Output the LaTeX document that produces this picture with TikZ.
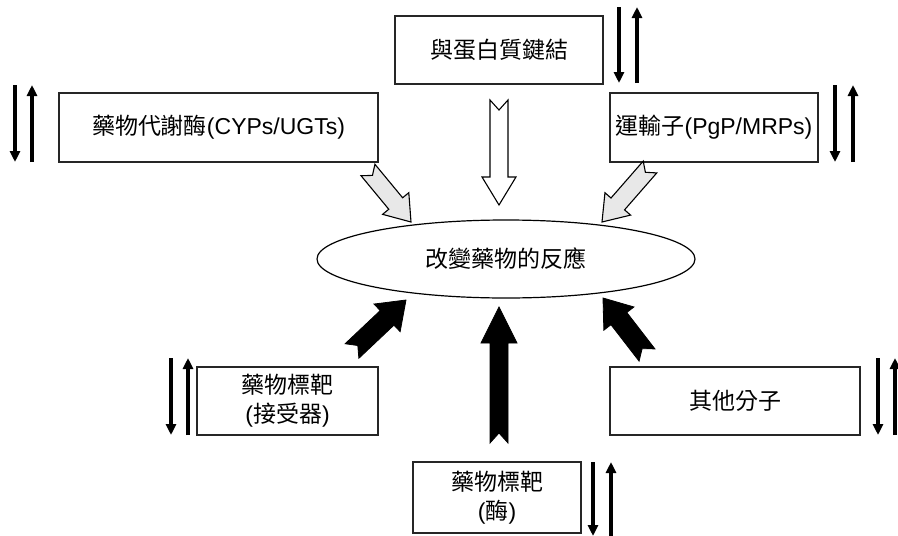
\documentclass[tikz,border=0pt]{standalone}
\usepackage{fontspec}
\setmainfont{Liberation Sans}
\newfontfamily\cjk{Noto Sans CJK TC}
\usetikzlibrary{arrows.meta,calc,shapes.geometric}
% block arrow: #1 style, #2 tail, #3 tip, #4 half shaft, #5 half head, #6 head length, #7 notch depth
\newcommand\blockarrow[7]{%
  \coordinate (ba-base) at ($(#3)!#6!(#2)$);
  \path[#1] ($(#2)!#4!90:(#3)$) -- ($(ba-base)!#4!-90:(#2)$) -- ($(ba-base)!#5!-90:(#2)$)
    -- (#3) -- ($(ba-base)!#5!90:(#2)$) -- ($(ba-base)!#4!90:(#2)$)
    -- ($(#2)!#4!-90:(#3)$) -- ($(#2)!#7!(#3)$) -- cycle;
}
\begin{document}
\begin{tikzpicture}[x=1pt,y=-1pt,
  box/.style={draw=black!85,line width=1.3pt,rectangle,inner sep=0pt,align=center,
    font=\fontsize{23}{29}\selectfont},
  updown/.style={line width=3.5pt,-{Triangle[width=10pt,length=11pt]}},
  hollow/.style={draw=black,line width=1.1pt,fill=white,line join=miter},
  speckle/.style={draw=black,line width=1.1pt,fill=gray!18,line join=miter},
  solidarr/.style={draw=black,line width=0.8pt,fill=black,line join=miter}]
\useasboundingbox (0,0) rectangle (898,536);

% boxes
\node[box,minimum width=208pt,minimum height=68pt] (prot) at (499,50) {\cjk 與蛋白質鍵結};
\node[box,minimum width=319pt,minimum height=69pt] (cyp) at (218.5,127.5) {{\cjk 藥物代謝酶}(CYPs/UGTs)};
\node[box,minimum width=208pt,minimum height=69pt] (trans) at (714,127.5) {{\cjk 運輸子}(PgP/MRPs)};
\node[box,minimum width=181pt,minimum height=68pt] (rec) at (287.5,401) {{\cjk 藥物標靶}\\({\cjk 接受器})};
\node[box,minimum width=250pt,minimum height=68pt] (other) at (735,401) {\cjk 其他分子};
\node[box,minimum width=168pt,minimum height=71pt] (enz) at (497,497.5) {{\cjk 藥物標靶}\\({\cjk 酶})};
\node[ellipse,draw=black,line width=1.2pt,minimum width=378pt,minimum height=78pt,inner sep=0pt,
  font=\fontsize{23}{27}\selectfont] (ell) at (506,259) {\cjk 改變藥物的反應};

% up/down arrow pairs
\foreach \n/\xd/\xu/\ya/\yb in {cyp/15/32/85/162, prot/619/637/7/83, trans/835/853/85/162,
  rec/171/188/358/435, other/878/895/358/435, enz/593/611/462/536}{
  \coordinate (\n-da) at (\xd,\ya); \coordinate (\n-db) at (\xd,\yb);
  \coordinate (\n-ua) at (\xu,\yb); \coordinate (\n-ub) at (\xu,\ya);
  \draw[updown] (\n-da) -- (\n-db);
  \draw[updown] (\n-ua) -- (\n-ub);
}

% block arrows towards the ellipse
\coordinate (a1t) at (368,170); \coordinate (a1h) at (411,222);
\coordinate (a2t) at (499,100); \coordinate (a2h) at (499,205);
\coordinate (a3t) at (650,167); \coordinate (a3h) at (602,222);
\coordinate (a4t) at (352,351); \coordinate (a4h) at (406,300);
\coordinate (a5t) at (499,443); \coordinate (a5h) at (499,307);
\coordinate (a6t) at (647,355); \coordinate (a6h) at (603,298);
\blockarrow{speckle}{a1t}{a1h}{9pt}{17pt}{24pt}{7pt}
\blockarrow{hollow}{a2t}{a2h}{9pt}{17pt}{28pt}{10pt}
\blockarrow{speckle}{a3t}{a3h}{9pt}{17pt}{24pt}{7pt}
\blockarrow{solidarr}{a4t}{a4h}{10pt}{19pt}{26pt}{8pt}
\blockarrow{solidarr}{a5t}{a5h}{9pt}{18pt}{36pt}{10pt}
\blockarrow{solidarr}{a6t}{a6h}{10pt}{19pt}{26pt}{8pt}
\end{tikzpicture}
\end{document}
